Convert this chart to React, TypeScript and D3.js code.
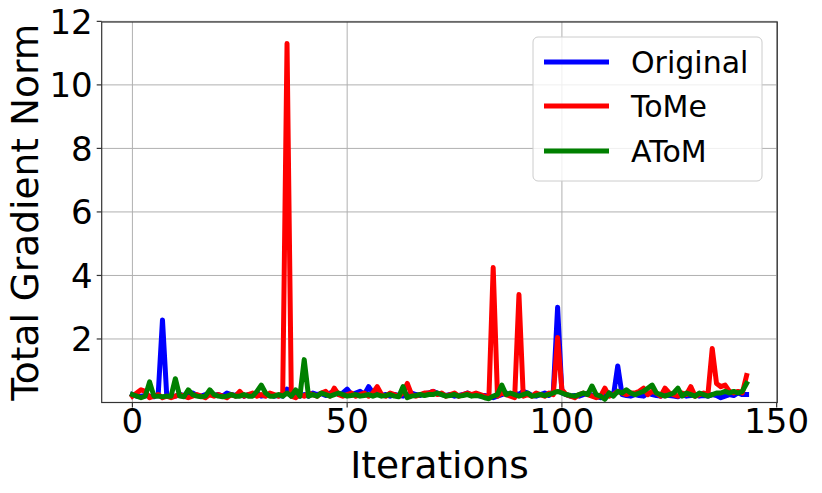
import React from "react";
import * as d3 from "d3";

const seriesNames = ["Original", "ToMe", "AToM"];
const seriesColors = ["#0000ff", "#ff0000", "#008000"];

const original = [
  0.25, 0.2, 0.2, 0.22, 0.2, 0.18, 0.25, 2.6, 0.2, 0.18,
  0.2, 0.25, 0.22, 0.2, 0.3, 0.22, 0.2, 0.25, 0.3, 0.22,
  0.25, 0.2, 0.3, 0.25, 0.22, 0.3, 0.2, 0.25, 0.22, 0.3,
  0.2, 0.22, 0.25, 0.2, 0.22, 0.2, 0.42, 0.2, 0.22, 0.2,
  0.25, 0.2, 0.3, 0.25, 0.28, 0.22, 0.3, 0.35, 0.25, 0.3,
  0.42, 0.25, 0.3, 0.35, 0.25, 0.5, 0.3, 0.28, 0.22, 0.25,
  0.2, 0.25, 0.22, 0.2, 0.25, 0.3, 0.25, 0.22, 0.28, 0.3,
  0.35, 0.3, 0.25, 0.22, 0.25, 0.2, 0.22, 0.25, 0.3, 0.22,
  0.25, 0.2, 0.22, 0.2, 0.15, 0.2, 0.25, 0.3, 0.22, 0.3,
  0.25, 0.35, 0.3, 0.22, 0.2, 0.25, 0.3, 0.22, 0.35, 3.0,
  0.3, 0.25, 0.2, 0.22, 0.2, 0.25, 0.3, 0.22, 0.2, 0.15,
  0.25, 0.3, 0.22, 1.15, 0.25, 0.22, 0.2, 0.25, 0.22, 0.2,
  0.3, 0.25, 0.22, 0.2, 0.25, 0.22, 0.2, 0.18, 0.25, 0.2,
  0.22, 0.25, 0.2, 0.22, 0.2, 0.25, 0.22, 0.15, 0.2, 0.25,
  0.22, 0.3, 0.25, 0.25,
];

const tome = [
  0.2, 0.3, 0.4, 0.35, 0.15, 0.2, 0.25, 0.15, 0.2, 0.15,
  0.2, 0.25, 0.2, 0.15, 0.2, 0.25, 0.2, 0.15, 0.25, 0.2,
  0.25, 0.2, 0.15, 0.25, 0.2, 0.35, 0.2, 0.25, 0.3, 0.2,
  0.25, 0.2, 0.3, 0.25, 0.2, 0.3, 11.3, 0.2, 0.15, 0.25,
  0.2, 0.3, 0.25, 0.2, 0.3, 0.35, 0.2, 0.45, 0.25, 0.2,
  0.25, 0.3, 0.2, 0.25, 0.3, 0.2, 0.3, 0.5, 0.25, 0.2,
  0.3, 0.25, 0.2, 0.3, 0.6, 0.25, 0.2, 0.25, 0.3, 0.3,
  0.35, 0.25, 0.3, 0.2, 0.25, 0.3, 0.2, 0.25, 0.3, 0.25,
  0.3, 0.25, 0.2, 0.15, 4.25, 0.2, 0.3, 0.25, 0.2, 0.15,
  3.4, 0.2, 0.25, 0.2, 0.3, 0.25, 0.2, 0.3, 0.25, 2.05,
  0.4, 0.25, 0.2, 0.15, 0.25, 0.3, 0.25, 0.2, 0.15, 0.2,
  0.45, 0.2, 0.25, 0.35, 0.3, 0.25, 0.3, 0.3, 0.35, 0.45,
  0.25, 0.35, 0.3, 0.2, 0.45, 0.3, 0.25, 0.2, 0.3, 0.25,
  0.5, 0.2, 0.25, 0.3, 0.25, 1.7, 0.6, 0.5, 0.55, 0.35,
  0.3, 0.35, 0.3, 0.85,
];

const atom = [
  0.25, 0.2, 0.15, 0.2, 0.65, 0.2, 0.2, 0.18, 0.2, 0.2,
  0.75, 0.2, 0.18, 0.4, 0.25, 0.2, 0.18, 0.2, 0.4, 0.25,
  0.2, 0.18, 0.2, 0.25, 0.2, 0.2, 0.25, 0.2, 0.2, 0.35,
  0.55, 0.3, 0.2, 0.2, 0.25, 0.2, 0.3, 0.2, 0.4, 0.2,
  1.35, 0.2, 0.25, 0.2, 0.3, 0.25, 0.2, 0.25, 0.3, 0.25,
  0.2, 0.22, 0.25, 0.2, 0.22, 0.25, 0.2, 0.25, 0.2, 0.22,
  0.25, 0.2, 0.18, 0.5, 0.15, 0.2, 0.22, 0.25, 0.22, 0.25,
  0.25, 0.3, 0.25, 0.2, 0.22, 0.25, 0.2, 0.22, 0.25, 0.2,
  0.22, 0.2, 0.15, 0.12, 0.2, 0.25, 0.55, 0.25, 0.3, 0.25,
  0.2, 0.25, 0.3, 0.2, 0.22, 0.25, 0.22, 0.25, 0.3, 0.35,
  0.3, 0.25, 0.22, 0.2, 0.25, 0.3, 0.25, 0.52, 0.25, 0.2,
  0.1, 0.3, 0.2, 0.35, 0.3, 0.4, 0.3, 0.25, 0.3, 0.35,
  0.45, 0.55, 0.3, 0.25, 0.2, 0.25, 0.3, 0.45, 0.2, 0.3,
  0.25, 0.2, 0.3, 0.25, 0.2, 0.25, 0.3, 0.3, 0.35, 0.3,
  0.35, 0.3, 0.35, 0.6,
];

const xTicks = [0, 50, 100, 150];
const yTicks = [2, 4, 6, 8, 10, 12];
const xLabel = "Iterations";
const yLabel = "Total Gradient Norm";

const W = 822;
const H = 493;
const plot = { left: 101.7, right: 777.3, top: 22, bottom: 402.5 };
const FONT = "'DejaVu Sans', sans-serif";

export default function App() {
  const data = [original, tome, atom];
  const n = original.length;
  const x = d3
    .scaleLinear()
    .domain([-0.05 * (n - 1), (n - 1) * 1.05])
    .range([plot.left, plot.right]);
  const y = d3.scaleLinear().domain([0.0, 11.98]).range([plot.bottom, plot.top]);

  const line = d3
    .line<number>()
    .x((_, i) => x(i))
    .y((d) => y(d));

  const legend = { x: 533, y: 37, w: 229, h: 144 };
  const rowY = [62, 106, 151];

  return (
    <div style={{ position: "absolute", left: 0, top: 0 }}>
      <svg width={W} height={H} style={{ display: "block", background: "#fff" }}>
        <defs>
          <clipPath id="clip">
            <rect x={plot.left} y={plot.top} width={plot.right - plot.left} height={plot.bottom - plot.top} />
          </clipPath>
        </defs>
        {/* grid */}
        <g stroke="#b0b0b0" strokeWidth={1}>
          {xTicks.map((t) => (
            <line key={"gx" + t} x1={x(t)} x2={x(t)} y1={plot.top} y2={plot.bottom} />
          ))}
          {yTicks.map((t) => (
            <line key={"gy" + t} x1={plot.left} x2={plot.right} y1={y(t)} y2={y(t)} />
          ))}
        </g>
        {/* series */}
        <g clipPath="url(#clip)">
          {data.map((s, k) => (
            <path
              key={seriesNames[k]}
              d={line(s) || ""}
              fill="none"
              stroke={seriesColors[k]}
              strokeWidth={5}
              strokeLinejoin="round"
              strokeLinecap="square"
            />
          ))}
        </g>
        {/* frame */}
        <rect
          x={plot.left}
          y={plot.top}
          width={plot.right - plot.left}
          height={plot.bottom - plot.top}
          fill="none"
          stroke="#333"
          strokeWidth={1.2}
        />
        {/* x ticks */}
        <g fontFamily={FONT} fontSize={34} fill="#000">
          {xTicks.map((t) => (
            <g key={"xt" + t}>
              <line x1={x(t)} x2={x(t)} y1={plot.bottom} y2={plot.bottom + 5} stroke="#333" strokeWidth={1.2} />
              <text x={x(t)} y={433} textAnchor="middle">
                {t}
              </text>
            </g>
          ))}
          {yTicks.map((t) => (
            <g key={"yt" + t}>
              <line x1={plot.left - 5} x2={plot.left} y1={y(t)} y2={y(t)} stroke="#333" strokeWidth={1.2} />
              <text x={plot.left - 9} y={y(t) + 12.4} textAnchor="end">
                {t}
              </text>
            </g>
          ))}
        </g>
        <text x={(plot.left + plot.right) / 2} y={478} textAnchor="middle" fontFamily={FONT} fontSize={37.5}>
          {xLabel}
        </text>
        <text
          transform={`translate(38, ${(plot.top + plot.bottom) / 2}) rotate(-90)`}
          textAnchor="middle"
          fontFamily={FONT}
          fontSize={37.5}
        >
          {yLabel}
        </text>
        {/* legend */}
        <rect
          x={legend.x}
          y={legend.y}
          width={legend.w}
          height={legend.h}
          rx={5}
          fill="#fff"
          fillOpacity={0.8}
          stroke="#cccccc"
          strokeWidth={1}
        />
        {seriesNames.map((nm, k) => (
          <g key={"lg" + nm}>
            <line x1={544} x2={609} y1={rowY[k]} y2={rowY[k]} stroke={seriesColors[k]} strokeWidth={5} />
            <text x={631} y={rowY[k] + 11} fontFamily={FONT} fontSize={30}>
              {nm}
            </text>
          </g>
        ))}
      </svg>
    </div>
  );
}
